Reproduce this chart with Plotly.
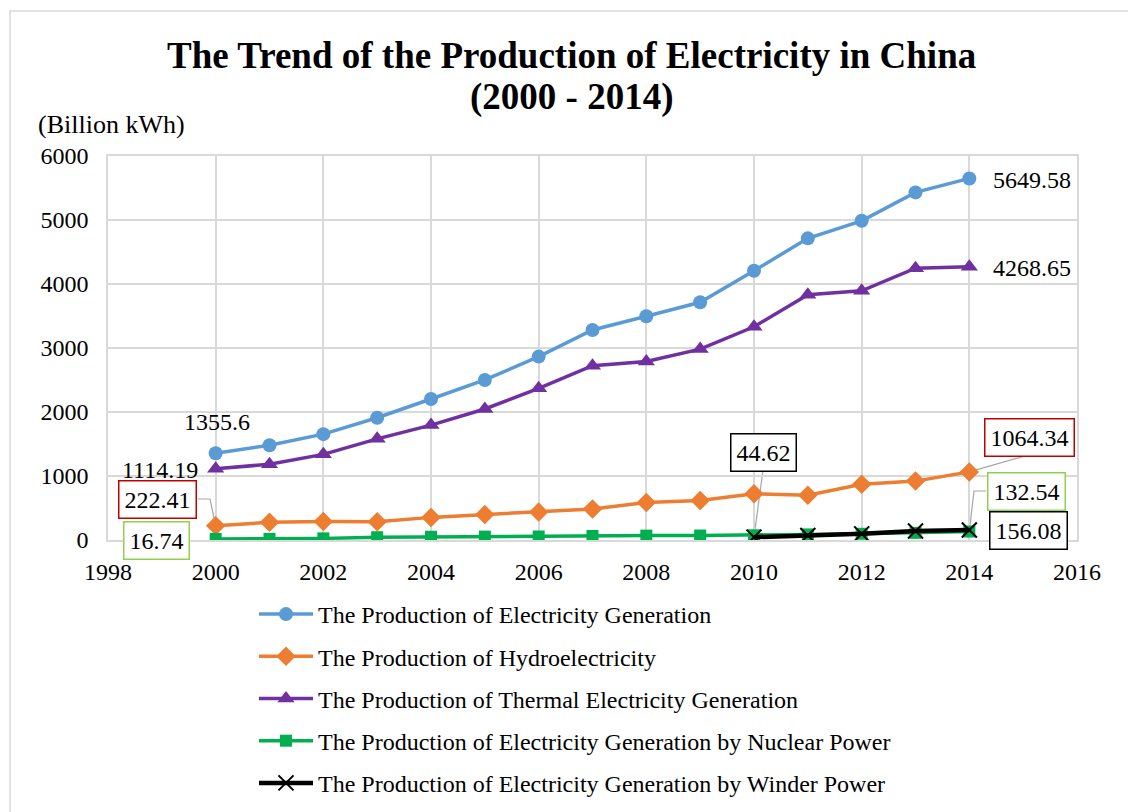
import plotly.graph_objects as go

# Annual electricity production in China (billion kWh)
years = list(range(2000, 2015))
total = [1355.6, 1480.8, 1654.0, 1910.6, 2203.3, 2500.3, 2865.7, 3281.6,
         3495.8, 3714.7, 4207.2, 4713.0, 4987.6, 5431.6, 5649.58]
hydro = [222.41, 277.4, 288.0, 283.7, 353.5, 397.0, 435.8, 485.3,
         585.2, 615.6, 722.2, 698.9, 872.1, 920.3, 1064.34]
thermal = [1114.19, 1183.4, 1338.1, 1580.4, 1795.6, 2047.3, 2369.6, 2722.9,
           2790.1, 2982.8, 3331.9, 3833.7, 3892.8, 4247.0, 4268.65]
nuclear = [16.74, 17.47, 25.13, 43.34, 50.47, 53.09, 54.84, 62.13,
           68.39, 70.13, 73.88, 87.2, 97.39, 111.5, 132.54]
wind_years = [2010, 2011, 2012, 2013, 2014]
wind = [44.62, 70.33, 95.98, 141.2, 156.08]

x_ticks = list(range(1998, 2017, 2))
y_ticks = list(range(0, 6001, 1000))

FONT = "Liberation Serif"
GRID = "#D9D9D9"
W, H = 1128, 812
L, R, T, B = 108, 51, 156, 272
PW, PH = W - L - R, H - T - B
FS = 24


def px_x(px):
    return (px - L) / PW


def px_y(py):
    return (H - B - py) / PH


def dx(px):
    return 1998 + (px - L) / PW * 18


def dy(py):
    return (H - B - py) / PH * 6000


fig = go.Figure()

series = [
    ("The Production of Electricity Generation", years, total, "#5B9BD5",
     dict(symbol="circle", size=14)),
    ("The Production of Hydroelectricity", years, hydro, "#ED7D31",
     dict(symbol="diamond", size=15)),
    ("The Production of Thermal Electricity Generation", years, thermal, "#7030A0",
     dict(symbol="triangle-up", size=15)),
    ("The Production of Electricity Generation by Nuclear Power", years, nuclear, "#00B050",
     dict(symbol="square", size=12)),
]
for i, (name, xs, ys, color, mk) in enumerate(series):
    fig.add_trace(go.Scatter(
        x=xs, y=ys, name=name, mode="lines+markers",
        line=dict(color=color, width=3.5),
        marker=dict(color=color, **mk),
        legendgroup=f"g{i}",
    ))

fig.add_trace(go.Scatter(
    x=wind_years, y=wind, name="The Production of Electricity Generation by Winder Power",
    mode="lines+markers",
    line=dict(color="black", width=4.5),
    marker=dict(symbol="x-thin", size=15, color="black",
                line=dict(color="black", width=2)),
    legendgroup="g4",
))

annotations = [
    dict(text="<b>The Trend of the Production of Electricity in China</b>",
         xref="paper", yref="paper", x=px_x(571), y=px_y(55),
         xanchor="center", yanchor="middle", showarrow=False,
         font=dict(family=FONT, size=37, color="black")),
    dict(text="<b>(2000 - 2014)</b>",
         xref="paper", yref="paper", x=px_x(571), y=px_y(97),
         xanchor="center", yanchor="middle", showarrow=False,
         font=dict(family=FONT, size=37, color="black")),
    dict(text="(Billion kWh)", xref="paper", yref="paper",
         x=px_x(36), y=px_y(125), xanchor="left", yanchor="middle",
         showarrow=False, font=dict(family=FONT, size=26, color="black")),
]


def value_label(text, x, y, border=None):
    a = dict(text=text, x=x, y=y, xref="x", yref="y", showarrow=False,
             xanchor="center", yanchor="middle",
             font=dict(family=FONT, size=FS, color="black"))
    if border:
        a.update(bordercolor=border, borderwidth=1.5, borderpad=5, bgcolor="white")
    return a


annotations += [
    value_label(f"{total[0]}", dx(217), dy(422)),
    value_label(f"{thermal[0]}", dx(160), dy(470)),
    value_label(f"{hydro[0]}", dx(157), dy(499), "#C00000"),
    value_label(f"{nuclear[0]}", dx(156), dy(540), "#92D050"),
    value_label(f"{wind[0]}", dx(763), dy(452), "black"),
    value_label(f"{hydro[-1]}", dx(1029), dy(437), "#C00000"),
    value_label(f"{nuclear[-1]}", dx(1026), dy(491), "#92D050"),
    value_label(f"{wind[-1]}", dx(1028), dy(530), "black"),
    value_label(f"{total[-1]}", dx(1032), dy(180)),
    value_label(f"{thermal[-1]}", dx(1032), dy(268)),
]

# leader lines joining labels to their points
LEADER = dict(color="#A6A6A6", width=1.2)
leaders = [
    [(dx(198), dy(499)), (dx(210), dy(499)), (2000, hydro[0])],
    [(dx(763), dy(470)), (2010, wind[0])],
    [(dx(1025), dy(456)), (2014, hydro[-1])],
    [(dx(986), dy(491)), (dx(974), dy(491)), (2014, nuclear[-1])],
]
shapes = []
for pts in leaders:
    path = "M" + " L".join(f"{x},{y}" for x, y in pts)
    shapes.append(dict(type="path", path=path, xref="x", yref="y",
                       line=LEADER, layer="below"))

# outer chart frame
shapes.append(dict(type="rect", xref="paper", yref="paper",
                   x0=px_x(10), x1=px_x(1150), y0=px_y(840), y1=px_y(11),
                   line=dict(color=GRID, width=1.5), fillcolor="rgba(0,0,0,0)"))

fig.update_layout(
    width=W, height=H,
    margin=dict(l=L, r=R, t=T, b=B, pad=0, autoexpand=False),
    paper_bgcolor="white", plot_bgcolor="white",
    font=dict(family=FONT, size=FS, color="black"),
    showlegend=True,
    legend=dict(orientation="v", xref="container", yref="container",
                x=254 / W, y=1 - 592 / H,
                xanchor="left", yanchor="top", itemwidth=54,
                font=dict(family=FONT, size=FS, color="black"),
                tracegroupgap=8, bgcolor="rgba(0,0,0,0)"),
    annotations=annotations,
    shapes=shapes,
)
fig.update_xaxes(range=[1998, 2016], tickvals=x_ticks, ticktext=[str(v) for v in x_ticks],
                 showgrid=True, gridcolor=GRID, gridwidth=1.5,
                 showline=True, linecolor=GRID, linewidth=1.5, mirror=True,
                 ticks="", zeroline=False, tickfont=dict(family=FONT, size=FS),
                 ticklabelstandoff=9)
fig.update_yaxes(range=[0, 6000], tickvals=y_ticks, ticktext=[str(v) for v in y_ticks],
                 showgrid=True, gridcolor=GRID, gridwidth=1.5,
                 showline=True, linecolor=GRID, linewidth=1.5, mirror=True,
                 ticks="", zeroline=False, tickfont=dict(family=FONT, size=FS),
                 ticklabelstandoff=13)

fig.write_html("out.html")
